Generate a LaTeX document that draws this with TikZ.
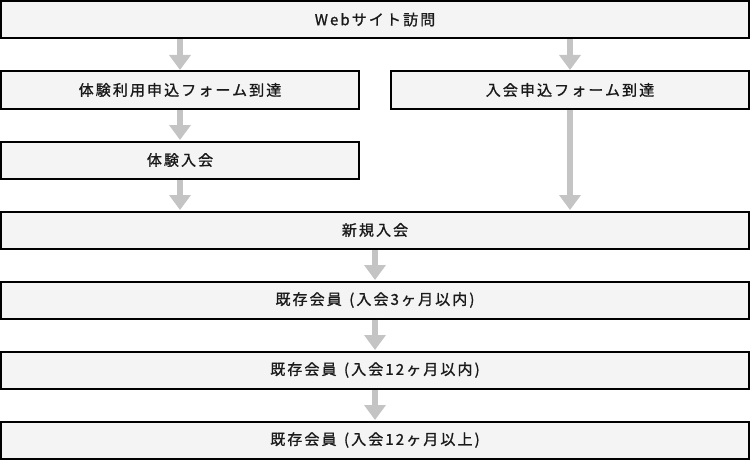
\documentclass[tikz,border=0pt]{standalone}
\usepackage{fontspec}
\setmainfont{Noto Sans CJK JP}[LetterSpace=14,FakeBold=1.2]
\usetikzlibrary{arrows.meta}
\definecolor{boxfill}{HTML}{F4F4F4}
\definecolor{arrowgray}{HTML}{C4C4C4}
\definecolor{textcol}{HTML}{1A1A1A}
\begin{document}
\begin{tikzpicture}[x=1pt,y=-1pt,
  stage/.style={draw=black,line width=2pt,fill=boxfill,inner sep=0pt,outer sep=0pt,
    minimum height=37pt,text=textcol,font=\fontsize{15pt}{17pt}\selectfont},
  wide/.style={stage,minimum width=748pt},
  half/.style={stage,minimum width=358pt},
  flow/.style={arrowgray,line width=6pt,-{Triangle[width=21pt,length=15pt]},shorten >=1.5pt,shorten <=1pt}]
\useasboundingbox (0,0) rectangle (750,460);
\node[wide] (A) at (375,19.5) {Webサイト訪問};
\node[half] (B) at (180,90) {体験利用申込フォーム到達};
\node[half] (C) at (570,90) {入会申込フォーム到達};
\node[half] (D) at (180,160) {体験入会};
\node[wide] (E) at (375,230) {新規入会};
\node[wide] (F) at (375,300) {既存会員\hspace{2pt} (入会3ヶ月以内)};
\node[wide] (G) at (375,370) {既存会員\hspace{2pt} (入会12ヶ月以内)};
\node[wide] (H) at (375,440) {既存会員\hspace{2pt} (入会12ヶ月以上)};
\draw[flow] (A.south -| B.north) -- (B.north);
\draw[flow] (A.south -| C.north) -- (C.north);
\draw[flow] (B.south) -- (D.north);
\draw[flow] (D.south) -- (E.north -| D.south);
\draw[flow] (C.south) -- (E.north -| C.south);
\draw[flow] (E.south) -- (F.north);
\draw[flow] (F.south) -- (G.north);
\draw[flow] (G.south) -- (H.north);
\end{tikzpicture}
\end{document}
